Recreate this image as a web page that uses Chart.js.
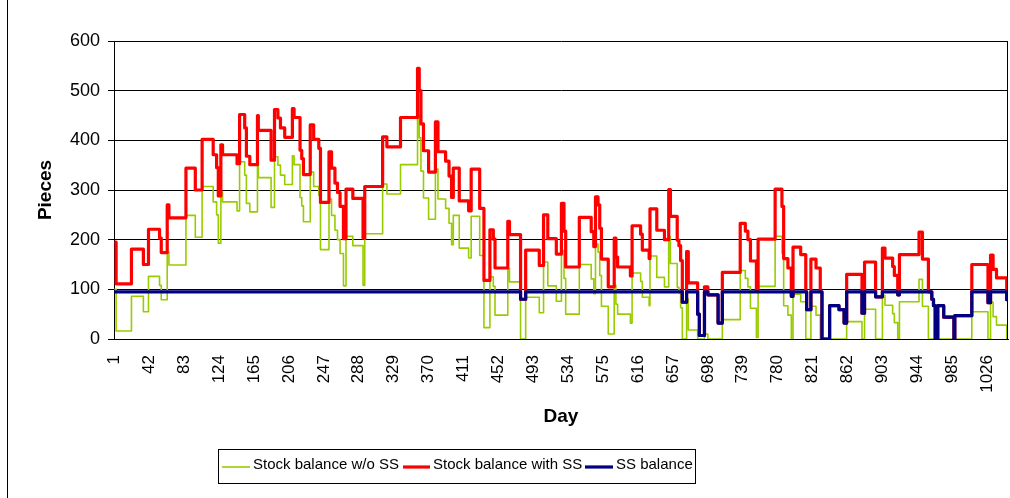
<!DOCTYPE html>
<html>
<head>
<meta charset="utf-8">
<script src="https://cdn.jsdelivr.net/npm/chart.js@4.4.0/dist/chart.umd.min.js"></script>
<style>
html,body{margin:0;padding:0;background:#fff;}
#wrap{width:1010px;height:498px;position:relative;}
</style>
</head>
<body>
<div id="wrap"><canvas id="c" width="1010" height="498"></canvas></div>
<script>
// ---- data (values hold from each change day until the next one) ----
const changeDays = [
  1,3,21,35,41,54,56,63,65,85,
  96,104,117,121,123,126,128,145,148,154,
  156,160,169,170,185,189,193,196,201,210,
  212,219,221,223,231,235,241,243,253,256,
  260,263,266,270,273,281,293,295,316,321,
  337,357,359,361,364,370,378,381,390,394,
  397,399,406,417,420,430,435,442,446,448,
  463,465,478,484,500,505,510,520,526,529,
  531,547,561,564,566,569,571,573,581,588,
  590,592,607,609,619,621,629,630,638,647,
  652,654,662,664,666,668,673,675,686,688,
  694,698,710,715,736,742,745,748,755,757,
  777,785,787,792,796,798,807,813,814,819,
  825,830,832,841,852,858,861,879,882,895,
  903,906,915,917,921,923,946,950,957,961,
  963,965,968,975,987,988,1008,1027,1030,1033,
  1037,1049,1050
];
const withoutSS = [
  100,16,86,55,126,108,79,175,149,249,
  205,307,276,250,193,296,276,258,357,330,
  273,256,355,325,265,367,350,330,311,369,
  351,285,268,236,336,307,289,180,282,249,
  219,200,172,107,207,188,108,212,312,292,
  351,450,405,338,284,241,342,282,263,233,
  190,249,183,163,247,168,23,125,106,48,
  142,115,0,84,53,155,107,76,178,122,
  50,150,121,91,191,175,128,66,10,108,
  70,50,32,133,116,84,67,167,124,105,
  206,152,104,93,63,0,81,18,0,0,
  10,0,0,39,138,122,105,62,3,106,
  207,172,67,48,0,90,75,0,0,66,
  48,0,0,0,0,0,35,0,60,0,
  88,68,51,33,0,75,120,66,0,0,
  0,0,0,0,0,0,55,0,74,45,
  28,0,0
];
const withSS = [
  195,111,181,150,221,203,174,270,244,344,
  300,402,371,345,288,391,371,353,452,425,
  368,351,450,420,360,462,445,425,406,464,
  446,380,363,331,431,402,384,275,377,344,
  314,295,267,202,302,283,203,307,407,387,
  446,545,500,433,379,336,437,377,358,328,
  285,344,278,258,342,263,118,220,201,143,
  237,210,80,179,148,250,202,171,273,217,
  145,245,216,186,286,270,223,161,105,203,
  165,145,127,228,211,179,162,262,219,200,
  301,247,199,188,158,74,176,113,50,7,
  105,89,32,134,233,217,200,157,98,201,
  302,267,162,143,86,185,170,95,59,161,
  143,95,0,67,59,32,130,52,155,85,
  183,163,146,128,89,170,215,161,95,80,
  67,0,67,44,0,47,150,73,169,140,
  123,79,79
];
const ssBalance = [
  95,95,95,95,95,95,95,95,95,95,
  95,95,95,95,95,95,95,95,95,95,
  95,95,95,95,95,95,95,95,95,95,
  95,95,95,95,95,95,95,95,95,95,
  95,95,95,95,95,95,95,95,95,95,
  95,95,95,95,95,95,95,95,95,95,
  95,95,95,95,95,95,95,95,95,95,
  95,95,80,95,95,95,95,95,95,95,
  95,95,95,95,95,95,95,95,95,95,
  95,95,95,95,95,95,95,95,95,95,
  95,95,95,95,95,74,95,95,50,7,
  95,89,32,95,95,95,95,95,95,95,
  95,95,95,95,86,95,95,95,59,95,
  95,95,0,67,59,32,95,52,95,85,
  95,95,95,95,89,95,95,95,95,80,
  67,0,67,44,0,47,95,73,95,95,
  95,79,79
];
const tickDays = [1,42,83,124,165,206,247,288,329,370,411,452,493,534,575,616,657,698,739,780,821,862,903,944,985,1026];
const yTickValues = [0,100,200,300,400,500,600];
const seriesNames = ['Stock balance w/o SS','Stock balance with SS','SS balance'];
const axisTitles = {x: 'Day', y: 'Pieces'};

function pts(vals){ return changeDays.map((d,i)=>({x:d, y:vals[i]})); }

const FONT = '"Liberation Sans", Arial, sans-serif';
Chart.defaults.font.family = FONT;
Chart.defaults.color = '#000';

const framePlugin = {
  id: 'frame',
  afterDraw(chart){
    const {ctx, chartArea:a} = chart;
    ctx.save();
    ctx.strokeStyle = '#000';
    ctx.lineWidth = 1;
    ctx.beginPath();
    ctx.moveTo(Math.round(a.right)-0.5, a.top);
    ctx.lineTo(Math.round(a.right)-0.5, a.bottom);
    ctx.stroke();
    ctx.beginPath();
    ctx.moveTo(7.5, 0); ctx.lineTo(7.5, 498);
    ctx.stroke();
    ctx.restore();
  }
};

const legendPlugin = {
  id: 'boxLegend',
  afterDraw(chart){
    const ctx = chart.ctx;
    ctx.save();
    ctx.strokeStyle = '#000';
    ctx.lineWidth = 1;
    ctx.strokeRect(218.5, 449.5, 477, 34);
    const slots = [{x0:222, x1:250, tx:253}, {x0:403, x1:430, tx:433}, {x0:585, x1:613, tx:616}];
    const ds = chart.data.datasets;
    ctx.font = '15px ' + FONT;
    ctx.textBaseline = 'middle';
    ctx.textAlign = 'left';
    slots.forEach((s,i)=>{
      ctx.strokeStyle = ds[i].borderColor;
      ctx.lineWidth = ds[i].borderWidth;
      ctx.beginPath();
      ctx.moveTo(s.x0, 467); ctx.lineTo(s.x1, 467);
      ctx.stroke();
      ctx.fillStyle = '#000';
      ctx.fillText(ds[i].label, s.tx, 465);
    });
    ctx.restore();
  }
};

new Chart(document.getElementById('c'), {
  type: 'line',
  data: {
    datasets: [
      {label: seriesNames[0], data: pts(withoutSS), borderColor: '#99CC00', borderWidth: 1.6, order: 2},
      {label: seriesNames[1], data: pts(withSS), borderColor: '#FF0000', borderWidth: 3.2, order: 1},
      {label: seriesNames[2], data: pts(ssBalance), borderColor: '#000080', borderWidth: 3.2, order: 0}
    ]
  },
  options: {
    responsive: false,
    animation: false,
    devicePixelRatio: 1,
    layout: {padding: {top: 41, right: 2, bottom: 0, left: 0}},
    elements: {
      point: {radius: 0, hoverRadius: 0},
      line: {tension: 0, stepped: 'before', borderJoinStyle: 'round', fill: false}
    },
    plugins: {legend: {display: false}, tooltip: {enabled: false}},
    scales: {
      x: {
        type: 'linear',
        min: 0.5, max: 1050.5,
        afterBuildTicks: s => { s.ticks = tickDays.map(v => ({value: v})); },
        afterFit: s => { s.height = 159; s.paddingLeft = 0; s.paddingRight = 0; },
        grid: {display: false, drawTicks: false},
        border: {display: true, color: '#000', width: 1},
        ticks: {
          autoSkip: false, minRotation: 90, maxRotation: 90, padding: 16,
          font: {size: 17}, color: '#000',
          callback: v => String(v)
        },
        title: {display: true, text: axisTitles.x, font: {size: 19, weight: 'bold'}, padding: {top: 0, bottom: 70}}
      },
      y: {
        min: 0, max: 600,
        afterBuildTicks: s => { s.ticks = yTickValues.map(v => ({value: v})); },
        afterFit: s => { s.width = 114; },
        grid: {color: '#000', lineWidth: 1, drawTicks: true, tickLength: 6, tickColor: '#000'},
        border: {display: true, color: '#000', width: 1},
        ticks: {font: {size: 18}, color: '#000', padding: 8},
        title: {display: true, text: axisTitles.y, font: {size: 19, weight: 'bold'}, padding: {top: 34.6, bottom: 0}}
      }
    }
  },
  plugins: [framePlugin, legendPlugin]
});
</script>
</body>
</html>
